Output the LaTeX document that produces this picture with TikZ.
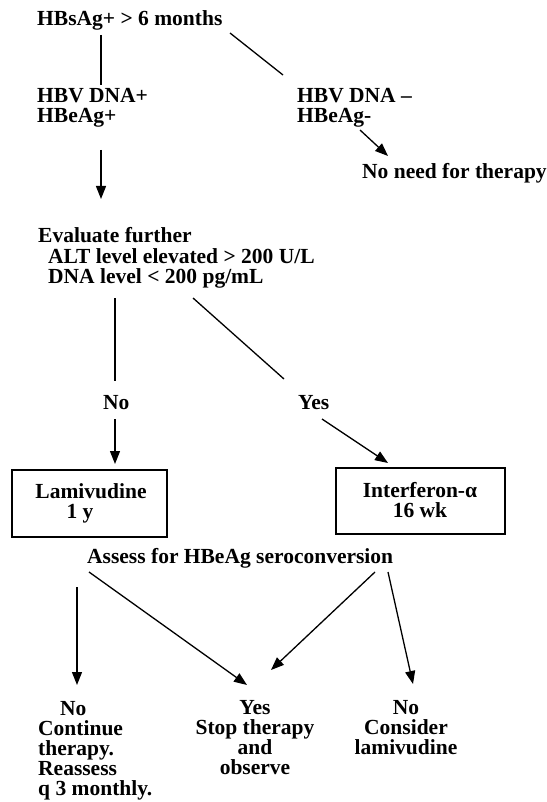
\documentclass[tikz,border=0pt]{standalone}
\usepackage{fontspec}
\setmainfont{Liberation Serif}
\usetikzlibrary{arrows.meta}

\begin{document}
\begin{tikzpicture}[x=1pt,y=-1pt,
  txt/.style={inner sep=0pt, font=\fontsize{21.5}{20}\selectfont\bfseries},
  lft/.style={txt, align=left, anchor=base west},
  ctr/.style={txt, align=center, anchor=base},
  box/.style={draw, line width=1.5pt, inner sep=0pt, txt, align=center},
  ln/.style={line width=1.3pt},
  arr/.style={ln, -{Triangle[length=13pt,width=10pt]}}
]
\useasboundingbox (0,0) rectangle (546,802);

% texts (multi-line nodes sit on the baseline of their last line)
\node[lft] (top) at (37,26) {HBsAg+ > 6 months};
\node[lft] (dnapos) at (37,123) {HBV DNA+\\HBeAg+};
\node[lft] (dnaneg) at (297,123) {HBV DNA –\\HBeAg-};
\node[lft] (notherapy) at (362,179) {No need for therapy};
\node[lft] (evaluate) at (38,283) {Evaluate further\\\hspace*{10pt}ALT level elevated > 200 U/L\\\hspace*{10pt}DNA level < 200 pg/mL};
\node[lft] (no1) at (103,409) {No};
\node[lft] (yes1) at (298,409) {Yes};

\node[box, minimum width=155pt, minimum height=67pt] (lam) at (89.5,503.5) {};
\node[ctr] (lamtxt) at (91,518) {Lamivudine\\1 y\hspace*{22pt}};
\node[box, minimum width=169pt, minimum height=66pt] (ifn) at (420.5,501) {};
\node[ctr] (ifntxt) at (420,517) {Interferon-α\\16 wk};

\node[lft] (assess) at (87,563) {Assess for HBeAg seroconversion};

\node[lft] (contin) at (38,795) {\hspace*{22pt}No\\Continue\\therapy.\\Reassess\\q 3 monthly.};
\node[ctr] (stop) at (255,774) {Yes\\Stop therapy\\and\\observe};
\node[ctr] (consider) at (406,754) {No\\Consider\\lamivudine};

% connector end points
\coordinate (a1) at (101,35);   \coordinate (b1) at (101,85);
\coordinate (a2) at (230,33);   \coordinate (b2) at (283,75);
\coordinate (a3) at (360,130);  \coordinate (b3) at (388,156);
\coordinate (a4) at (101,150);  \coordinate (b4) at (101,199);
\coordinate (a5) at (115,298);  \coordinate (b5) at (115,381);
\coordinate (a6) at (193,298);  \coordinate (b6) at (284,379);
\coordinate (a7) at (115,419);  \coordinate (b7) at (115,464);
\coordinate (a8) at (322,419);  \coordinate (b8) at (388,463);
\coordinate (a9) at (77,587);   \coordinate (b9) at (77,685);
\coordinate (a10) at (89,572);  \coordinate (b10) at (247,685);
\coordinate (a11) at (375,572); \coordinate (b11) at (271,670);
\coordinate (a12) at (388,572); \coordinate (b12) at (413,684);

% connectors
\draw[ln] (a1) -- (b1);
\draw[ln] (a2) -- (b2);
\draw[arr] (a3) -- (b3);
\draw[arr] (a4) -- (b4);
\draw[ln] (a5) -- (b5);
\draw[ln] (a6) -- (b6);
\draw[arr] (a7) -- (b7);
\draw[arr] (a8) -- (b8);
\draw[arr] (a9) -- (b9);
\draw[arr] (a10) -- (b10);
\draw[arr] (a11) -- (b11);
\draw[arr] (a12) -- (b12);
\end{tikzpicture}
\end{document}
